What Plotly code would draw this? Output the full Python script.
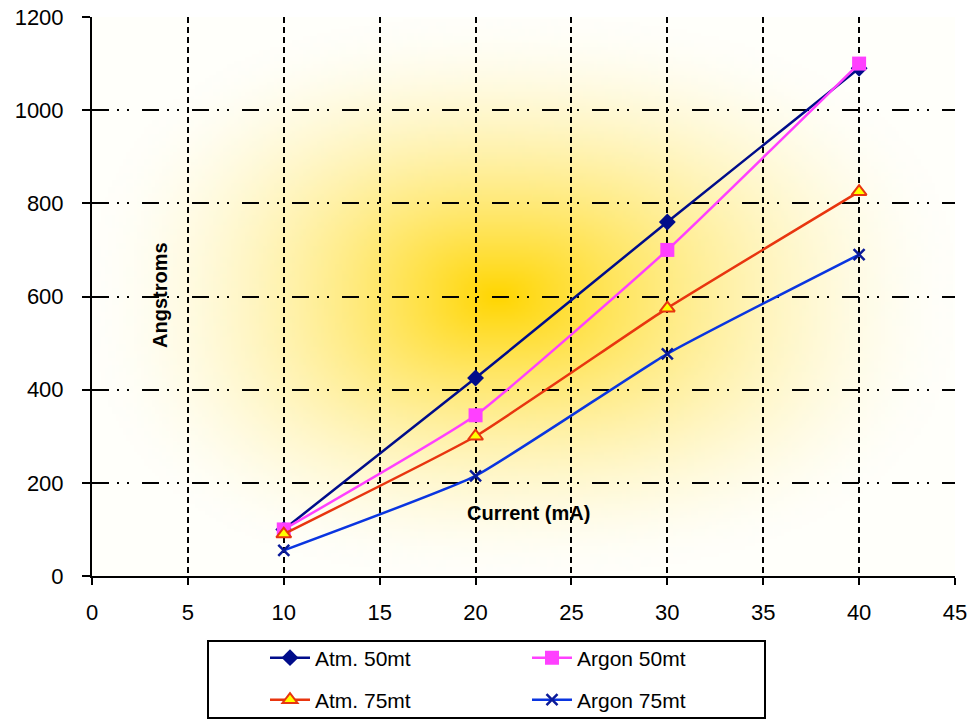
import base64
import struct
import zlib

import numpy as np
import plotly.graph_objects as go

# ---------------- data ----------------
current_ma = [10, 20, 30, 40]
atm_50mt = [100, 425, 760, 1090]
argon_50mt = [100, 345, 700, 1100]
atm_75mt = [90, 300, 575, 825]
argon_75mt = [55, 215, 477, 690]

x_ticks = [0, 5, 10, 15, 20, 25, 30, 35, 40, 45]
y_ticks = [0, 200, 400, 600, 800, 1000, 1200]


# ---------------- gradient background (PNG built in memory) ----------------
def make_png(rgb):
    h, w, _ = rgb.shape
    raw = b"".join(b"\x00" + rgb[r].tobytes() for r in range(h))

    def chunk(tag, data):
        c = struct.pack(">I", len(data)) + tag + data
        return c + struct.pack(">I", zlib.crc32(tag + data) & 0xFFFFFFFF)

    png = b"\x89PNG\r\n\x1a\n"
    png += chunk(b"IHDR", struct.pack(">IIBBBBB", w, h, 8, 2, 0, 0, 0))
    png += chunk(b"IDAT", zlib.compress(raw, 9))
    png += chunk(b"IEND", b"")
    return "data:image/png;base64," + base64.b64encode(png).decode()


W, H = 240, 160
xs = np.linspace(0, 1, W)
ys = np.linspace(0, 1, H)
X, Y = np.meshgrid(xs, ys)
cx, cy = 0.47, 0.50
u = np.abs(X - cx) / np.where(X < cx, cx, 1 - cx)
v = np.abs(Y - cy) / np.where(Y < cy, cy, 1 - cy)
p = 2.4
d = (u ** p + v ** p) ** (1 / p)
f = np.clip(1 - d, 0, 1) ** 1.6
edge = np.array([255, 255, 250], dtype=float)
center = np.array([255, 214, 0], dtype=float)
img = edge[None, None, :] * (1 - f[..., None]) + center[None, None, :] * f[..., None]
bg_uri = make_png(np.clip(img, 0, 255).astype(np.uint8))

# ---------------- figure ----------------
fig = go.Figure()

fig.add_trace(go.Scatter(
    x=current_ma, y=atm_50mt, name="Atm. 50mt", mode="lines+markers",
    line=dict(color="#000C8A", width=2.5, shape="spline", smoothing=0.4),
    marker=dict(symbol="diamond", size=13, color="#000C8A"),
    legend="legend",
))
fig.add_trace(go.Scatter(
    x=current_ma, y=argon_50mt, name="Argon 50mt", mode="lines+markers",
    line=dict(color="#FF40FF", width=2.5, shape="spline", smoothing=0.4),
    marker=dict(symbol="square", size=14, color="#FF40FF"),
    legend="legend",
))
fig.add_trace(go.Scatter(
    x=current_ma, y=atm_75mt, name="Atm. 75mt", mode="lines+markers",
    line=dict(color="#E8350F", width=2.5, shape="spline", smoothing=0.4),
    marker=dict(symbol="triangle-up", size=13, color="#FFFF00",
                line=dict(color="#E8350F", width=2)),
    legend="legend2",
))
fig.add_trace(go.Scatter(
    x=current_ma, y=argon_75mt, name="Argon 75mt", mode="lines+markers",
    line=dict(color="#0A35E0", width=2.5, shape="spline", smoothing=0.4),
    marker=dict(symbol="x-thin", size=11, color="#0A1A99",
                line=dict(color="#0A1A99", width=2.5)),
    legend="legend2",
))

font_family = "Arial, Liberation Sans, sans-serif"

fig.update_layout(
    width=967, height=720,
    margin=dict(l=92, r=12, t=17, b=144, autoexpand=False),
    paper_bgcolor="white",
    plot_bgcolor="white",
    font=dict(family=font_family, size=22, color="black"),
    showlegend=True,
    images=[dict(source=bg_uri, xref="paper", yref="paper", x=0, y=1,
                 sizex=1, sizey=1, sizing="stretch", layer="below")],
    xaxis=dict(
        range=[0, 45], tickvals=x_ticks, showgrid=True,
        gridcolor="black", gridwidth=2, griddash="6px,4px",
        showline=True, linecolor="black", linewidth=2,
        ticks="outside", ticklen=7, tickwidth=2, tickcolor="black",
        zeroline=False, ticklabelstandoff=9, automargin=False,
        ticklabeloverflow="allow",
        tickfont=dict(size=22),
    ),
    yaxis=dict(
        range=[0, 1200], tickvals=y_ticks, showgrid=True,
        gridcolor="black", gridwidth=2,
        griddash="17px,8px,2px,8px,2px,13px",
        showline=True, linecolor="black", linewidth=2,
        ticks="outside", ticklen=8, tickwidth=2, tickcolor="black",
        zeroline=False, ticklabelstandoff=14, automargin=False,
        ticklabeloverflow="allow",
        tickfont=dict(size=22),
    ),
    legend=dict(
        orientation="h", xref="container", yref="container",
        x=265 / 967, y=1 - 658 / 720,
        xanchor="left", yanchor="middle",
        entrywidth=207, entrywidthmode="pixels",
        bgcolor="rgba(0,0,0,0)", font=dict(size=21),
        itemwidth=40,
    ),
    legend2=dict(
        orientation="h", xref="container", yref="container",
        x=265 / 967, y=1 - 700 / 720,
        xanchor="left", yanchor="middle",
        entrywidth=207, entrywidthmode="pixels",
        bgcolor="rgba(0,0,0,0)", font=dict(size=21),
        itemwidth=40,
    ),
    shapes=[dict(
        type="rect", xref="paper", yref="paper",
        x0=(208 - 92) / 863, x1=(765 - 92) / 863,
        y0=(576 - 718) / 559, y1=(576 - 641) / 559,
        line=dict(color="black", width=2), fillcolor="rgba(0,0,0,0)",
    )],
    annotations=[
        dict(text="<b>Angstroms</b>", xref="paper", yref="paper",
             x=(147 - 92) / 863, y=(576 - 295) / 559, textangle=-90,
             showarrow=False, font=dict(size=20, family=font_family)),
        dict(text="<b>Current (mA)</b>", xref="paper", yref="paper",
             x=(528 - 92) / 863, y=(576 - 526) / 559,
             showarrow=False, font=dict(size=20, family=font_family)),
    ],
)

fig.write_html(
    "out.html",
    config={"displayModeBar": False},
    post_script="document.body.style.margin='0';document.body.style.overflow='hidden';",
)
